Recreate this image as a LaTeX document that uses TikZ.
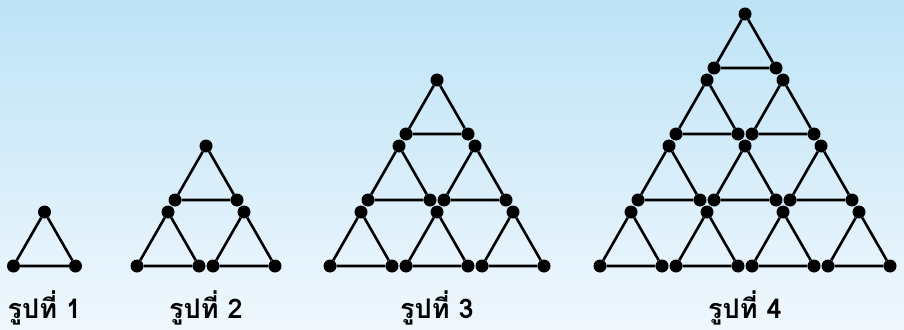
\documentclass[tikz,border=0pt]{standalone}
\usepackage{fontspec}
\newfontfamily\thaifont[Script=Thai]{Loma}
\definecolor{bgtop}{RGB}{189,227,246}
\definecolor{bgbot}{RGB}{240,247,253}
\tikzset{
  dot/.style={circle,fill=black,inner sep=0pt,minimum size=13pt},
  edge/.style={draw=black,line width=2.6pt},
  lab/.style={anchor=base,font=\thaifont\bfseries\fontsize{27}{31}\selectfont,inner sep=0pt}
}
\begin{document}
\begin{tikzpicture}[x=1pt,y=-1pt]
\useasboundingbox (0,0) rectangle (904,329);
\fill[top color=bgtop,bottom color=bgbot] (0,0) rectangle (904,329);
\foreach \f/\cx/\n in {1/44.5/1,2/206/2,3/437/3,4/745/4}{
  \pgfmathtruncatemacro\nm{\n-1}
  \foreach \r in {0,...,\nm}{
    \foreach \k in {0,...,\r}{
      \pgfmathsetmacro\ax{\cx+(\k-\r/2)*76}
      \pgfmathsetmacro\ay{212-(\nm-\r)*66}
      \node[dot] (t\f-\r-\k) at (\ax,\ay) {};
      \node[dot] (l\f-\r-\k) at (\ax-31,\ay+54) {};
      \node[dot] (r\f-\r-\k) at (\ax+31,\ay+54) {};
      \draw[edge] (t\f-\r-\k) -- (l\f-\r-\k) -- (r\f-\r-\k) -- (t\f-\r-\k);
    }
  }
  \node[lab] (lab\f) at (\cx,318) {รูปที่ \n};
}
\end{tikzpicture}
\end{document}
